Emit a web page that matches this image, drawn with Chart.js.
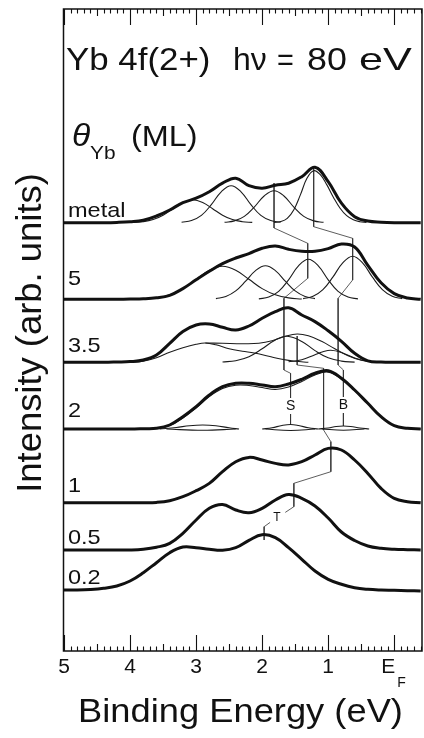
<!DOCTYPE html>
<html>
<head>
<meta charset="utf-8">
<script src="https://cdn.jsdelivr.net/npm/chart.js@4.4.1/dist/chart.umd.min.js"></script>
<style>
html, body { margin: 0; padding: 0; background: #fff; }
#wrap { position: relative; width: 424px; height: 738px; }
</style>
</head>
<body>
<div id="wrap"><canvas id="xpsChart"></canvas></div>
<script>
// binding energy grid (eV) of the measured spectra
var energy = [5.0, 4.8, 4.6, 4.4, 4.2, 4.0, 3.8, 3.6, 3.4, 3.2, 3.0, 2.8, 2.6, 2.4, 2.2, 2.0, 1.8, 1.6, 1.4, 1.2, 1.0, 0.8, 0.6, 0.4, 0.2, 0.0, -0.2, -0.4];
var xTicks = [5, 4, 3, 2, 1];

// coverage labels and vertical offset of each spectrum (arb. units)
var coverage = ["metal", "5", "3.5", "2", "1", "0.5", "0.2"];
var offsets = [428.3, 351.7, 288.7, 222, 148.3, 101, 61];

// measured spectra (intensity above own baseline)
var specMetal = [0, 0, 0, 0, 0.3, 1, 2.5, 6.7, 12.7, 20, 24.5, 31, 39.5, 44.5, 37, 34.5, 37.5, 39.5, 46, 55.5, 41, 19.5, 6, 1.7, 0.5, 0, 0, 0];
var spec5 = [0, 0, 0, 0, 0, 0.2, 0.5, 1.5, 4, 10.7, 19.5, 28, 35.7, 41.3, 45.7, 51, 53.3, 50, 48, 48, 50.7, 55.3, 52.3, 34, 16.5, 5.7, 1.3, 0];
var spec35 = [0, 0, 0, 0, 0.3, 0.7, 2.3, 7.3, 19, 30.7, 37.3, 38.3, 35, 32.3, 36.3, 44, 50.7, 54.5, 47.3, 40.7, 31.5, 21, 9, 1.5, 0.3, 0, 0, 0];
var spec2 = [0, 0, 0, 0, 0, 0, 0.3, 0.7, 4, 12.3, 22.3, 34, 42.3, 45.7, 45.7, 44, 42.3, 45, 49.7, 55.7, 58.3, 50.7, 39, 25.7, 12.3, 3.3, 0.7, 0];
var fit2 = [0, 0, 0, 0, 0, 0, 0.2, 0.6, 3.5, 11, 21, 32.5, 40.5, 43.8, 43.5, 41.5, 39.5, 42, 47.5, 54, 56.8, 49.8, 38.5, 25.5, 12, 3.2, 0.6, 0];
var spec1 = [0, 0, 0, 0, 0, 0, 0, 0.3, 2, 6, 12, 19.3, 31, 41, 45.3, 42.7, 39.3, 37.7, 41, 47.7, 54.3, 52.7, 42.7, 29.3, 14.3, 4.3, 1, 0];
var spec05 = [0, 0, 0, 0, 0, 0, 0.7, 2.7, 6.7, 16.7, 30, 41.7, 45.5, 40, 37.3, 41.7, 50, 55.5, 51.7, 44, 32, 18, 9.5, 4, 1.7, 0.7, 0.3, 0];
var spec02 = [0, 0, 0.5, 1.7, 4, 9, 17.3, 27.3, 37.3, 43, 42.3, 40.7, 39.7, 42.3, 49.7, 55.3, 52.3, 42.3, 30.7, 19, 10.7, 5.7, 2.3, 0.7, 0, -0.3, -0.7, -1];

// fitted components [energy, intensity]
var metalC1 = [[3.95, 0.3], [3.8, 1], [3.65, 3.1], [3.5, 7.5], [3.35, 14], [3.2, 20.3], [3.05, 23], [2.9, 20.3], [2.75, 14], [2.6, 7.5], [2.45, 3.1], [2.3, 1], [2.15, 0.3]];
var metalC2 = [[3.22, 0.4], [3.07, 2.1], [2.92, 7.3], [2.77, 18], [2.62, 30.9], [2.47, 37], [2.32, 30.9], [2.17, 18], [2.02, 7.3], [1.87, 2.1], [1.72, 0.4]];
var metalC3 = [[2.57, 0.4], [2.42, 1.8], [2.27, 6.3], [2.12, 15.6], [1.97, 26.7], [1.82, 32], [1.67, 26.7], [1.52, 15.6], [1.37, 6.3], [1.22, 1.8], [1.07, 0.4]];
var metalC4 = [[1.82, 0.2], [1.72, 1.1], [1.62, 4.4], [1.52, 13], [1.42, 28.1], [1.32, 44.6], [1.22, 52], [1.12, 48], [1.02, 37.8], [0.92, 25.3], [0.82, 14.5], [0.72, 7], [0.62, 2.9], [0.52, 1], [0.42, 0.3]];

var c5A = [[3.8, 0.3], [3.6, 1.4], [3.4, 4.5], [3.2, 10.7], [3.0, 20], [2.8, 29.1], [2.6, 33], [2.4, 29.1], [2.2, 20], [2.0, 10.7], [1.8, 4.5], [1.6, 1.4], [1.4, 0.3]];
var c5B = [[2.7, 0.7], [2.55, 2.8], [2.4, 8.4], [2.25, 18.1], [2.1, 28.7], [1.95, 33.5], [1.8, 28.7], [1.65, 18.1], [1.5, 8.4], [1.35, 2.8], [1.2, 0.7]];
var c5C = [[2.05, 0.4], [1.9, 2.2], [1.75, 7.9], [1.6, 19.5], [1.45, 33.4], [1.3, 40], [1.15, 33.4], [1.0, 19.5], [0.85, 7.9], [0.7, 2.2], [0.55, 0.4]];
var c5D = [[1.38, 0.7], [1.23, 3], [1.08, 9.6], [0.93, 22.1], [0.78, 36.4], [0.63, 43], [0.48, 36.4], [0.33, 22.1], [0.18, 9.6], [0.03, 3], [-0.12, 0.7]];

var c35A = [[4.0, 0], [3.8, 1], [3.6, 4.5], [3.4, 10], [3.2, 14.5], [3.0, 18], [2.86, 19.3], [2.7, 17.5], [2.5, 13.5], [2.3, 11], [2.12, 9.3], [1.9, 6], [1.7, 3], [1.5, 1], [1.3, 0]];
var c35B = [[2.86, 19.3], [2.6, 19], [2.3, 18.6], [2.05, 19], [1.85, 21.5], [1.65, 26], [1.47, 28.3], [1.3, 26.5], [1.1, 21], [0.9, 13.5], [0.7, 6.5], [0.5, 2], [0.3, 0.3]];
var c35C = [[2.6, 0.3], [2.4, 1.6], [2.2, 5.6], [2.0, 13.5], [1.8, 22.4], [1.62, 26], [1.4, 20.9], [1.2, 11.7], [1.0, 4.5], [0.8, 1.2], [0.6, 0.2]];
var c35D = [[1.6, 0.5], [1.4, 2.5], [1.2, 7.6], [1.08, 10.5], [0.96, 12], [0.8, 9.8], [0.6, 4.3], [0.4, 1], [0.2, 0.1]];

var c2A = [[3.55, 0], [3.3, 1.5], [3.1, 3.3], [2.9, 4], [2.7, 3.3], [2.5, 1.2], [2.35, 0]];
var c2S = [[2.0, 0], [1.85, 1.2], [1.7, 3.5], [1.57, 4.5], [1.45, 3.5], [1.3, 1.2], [1.15, 0]];
var c2B = [[1.15, 0], [1.0, 1], [0.88, 2.5], [0.77, 3], [0.66, 2.5], [0.52, 1], [0.38, 0]];
var d2A = [[3.45, 0], [2.9, -1.3], [2.4, 0]];
var d2S = [[1.95, 0], [1.57, -1.5], [1.2, 0]];
var d2B = [[1.1, 0], [0.77, -1.2], [0.45, 0]];

// peak-tracking guide lines [energy, intensity], null = break
var guideS = [[1.82, 468], [1.82, 423], [1.31, 407.7], [1.31, 372.7], [1.67, 352.7], [1.67, 281], [1.57, 277.7], [1.57, 253], null, [1.57, 237], [1.57, 227]];
var guideB = [[1.22, 483], [1.22, 424.3], [0.63, 412.7], [0.63, 371], [0.85, 352.7], [0.85, 286], [0.77, 281], [0.77, 254], null, [0.77, 238], [0.77, 225]];
var guideT = [[1.47, 315], [1.47, 286], [1.07, 282.7], [1.07, 221], [0.96, 209.3], [0.96, 179.3], [1.52, 167.7], [1.52, 144.3], [1.65, 138.6], null, [1.88, 128.6], [1.97, 124.3], [1.97, 111]];
var markNames = ["S", "B", "T"];
var markAt = [[1.57, 244.5], [0.77, 245.5], [1.775, 133]];

var FONT = '"Liberation Sans", Arial, Helvetica, sans-serif';
var INK = '#111';

function series(values, base) {
    return energy.map(function (e, i) { return { x: e, y: values[i] + base }; });
}
function pairs(list, base) {
    return list.map(function (p) { return p === null ? { x: 0, y: null } : { x: p[0], y: p[1] + base }; });
}
function thick(values, base) {
    return { data: series(values, base), borderColor: INK, borderWidth: 3, tension: 0.4 };
}
function thin(points) {
    return { data: points, borderColor: '#1c1c1c', borderWidth: 1.1, tension: 0.4 };
}
function guide(list) {
    return { data: pairs(list, 0), borderColor: '#333', borderWidth: 0.8, tension: 0, spanGaps: false };
}

var datasets = [
    thick(specMetal, offsets[0]),
    thick(spec5, offsets[1]),
    thick(spec35, offsets[2]),
    thick(spec2, offsets[3]),
    thin(series(fit2, offsets[3])),
    thick(spec1, offsets[4]),
    thick(spec05, offsets[5]),
    thick(spec02, offsets[6])
];
[metalC1, metalC2, metalC3, metalC4].forEach(function (c) { datasets.push(thin(pairs(c, offsets[0]))); });
[c5A, c5B, c5C, c5D].forEach(function (c) { datasets.push(thin(pairs(c, offsets[1]))); });
[c35A, c35B, c35C, c35D].forEach(function (c) { datasets.push(thin(pairs(c, offsets[2]))); });
[c2A, c2S, c2B, d2A, d2S, d2B].forEach(function (c) { datasets.push(thin(pairs(c, offsets[3]))); });
[guideS, guideB, guideT].forEach(function (g) { datasets.push(guide(g)); });

var labelLift = [6, 14, 10.5, 12, 11, 6.5, 6.5];

// text drawn slightly widened, like the scanned lettering
function say(ctx, str, x, y, font, align, sx) {
    ctx.save();
    ctx.translate(x, y);
    ctx.scale(sx || 1, 1);
    ctx.font = font;
    ctx.textAlign = align || 'left';
    ctx.fillText(str, 0, 0);
    ctx.restore();
}

// frame, inward ticks and all the figure text
var decor = {
    id: 'decor',
    afterDatasetsDraw: function (chart) {
        var ctx = chart.ctx, a = chart.chartArea;
        var xs = chart.scales.x, ys = chart.scales.y;
        ctx.save();
        ctx.strokeStyle = INK;
        ctx.lineWidth = 1.5;
        ctx.strokeRect(a.left - 0.5, a.top, a.right - a.left + 0.5, a.bottom - a.top);

        ctx.lineWidth = 1.1;
        for (var i = -4; i <= 50; i++) {
            var px = Math.round(xs.getPixelForValue(i / 10)) + 0.5;
            var len = i % 10 === 0 ? 16 : (i % 5 === 0 ? 7 : 4.5);
            ctx.beginPath();
            ctx.moveTo(px, a.bottom); ctx.lineTo(px, a.bottom - len);
            ctx.moveTo(px, a.top); ctx.lineTo(px, a.top + len);
            ctx.stroke();
        }

        ctx.fillStyle = INK;
        ctx.textBaseline = 'alphabetic';
        xTicks.forEach(function (v) {
            say(ctx, String(v), xs.getPixelForValue(v), 673, '20px ' + FONT, 'center', 1.05);
        });
        var ef = xs.getPixelForValue(0);
        say(ctx, 'E', ef - 6, 673, '20px ' + FONT, 'center', 1.05);
        say(ctx, 'F', ef + 3, 687, '14px ' + FONT, 'left');

        say(ctx, 'Binding Energy (eV)', 240.5, 722, '33px ' + FONT, 'center', 1.1);

        ctx.save();
        ctx.translate(41, 333);
        ctx.rotate(-Math.PI / 2);
        say(ctx, 'Intensity (arb. units)', 0, 0, '35px ' + FONT, 'center', 1.04);
        ctx.restore();

        var big = '32px ' + FONT;
        say(ctx, 'Yb 4f(2+)', 66, 70, big, 'left', 1.09);
        say(ctx, 'h\u03bd', 233, 70, big, 'left', 1.0);
        say(ctx, '=', 277, 70, big, 'left', 0.9);
        say(ctx, '80', 307, 70, big, 'left', 1.12);
        say(ctx, 'eV', 359, 70, big, 'left', 1.35);

        say(ctx, '\u03b8', 72, 146, 'italic 32px ' + FONT, 'left', 1.05);
        say(ctx, 'Yb', 90, 159, '19px ' + FONT, 'left', 1.1);
        say(ctx, '(ML)', 131, 146, '30px ' + FONT, 'left', 1.08);

        coverage.forEach(function (name, k) {
            say(ctx, name, 68, ys.getPixelForValue(offsets[k]) - labelLift[k], '21px ' + FONT, 'left', 1.12);
        });

        ctx.textBaseline = 'middle';
        markNames.forEach(function (m, k) {
            say(ctx, m, xs.getPixelForValue(markAt[k][0]), ys.getPixelForValue(markAt[k][1]),
                (m === 'T' ? '12px ' : '14px ') + FONT, 'center');
        });
        ctx.restore();
    }
};

new Chart(document.getElementById('xpsChart'), {
    type: 'line',
    data: { datasets: datasets },
    options: {
        responsive: true,
        maintainAspectRatio: false,
        animation: false,
        layout: { padding: { left: 64, right: 2, top: 9, bottom: 87 } },
        elements: { point: { radius: 0 } },
        plugins: { legend: { display: false }, tooltip: { enabled: false } },
        scales: {
            x: { type: 'linear', reverse: true, min: -0.42, max: 5, display: false },
            y: { type: 'linear', min: 0, max: 642, display: false }
        }
    },
    plugins: [decor]
});
</script>
</body>
</html>
